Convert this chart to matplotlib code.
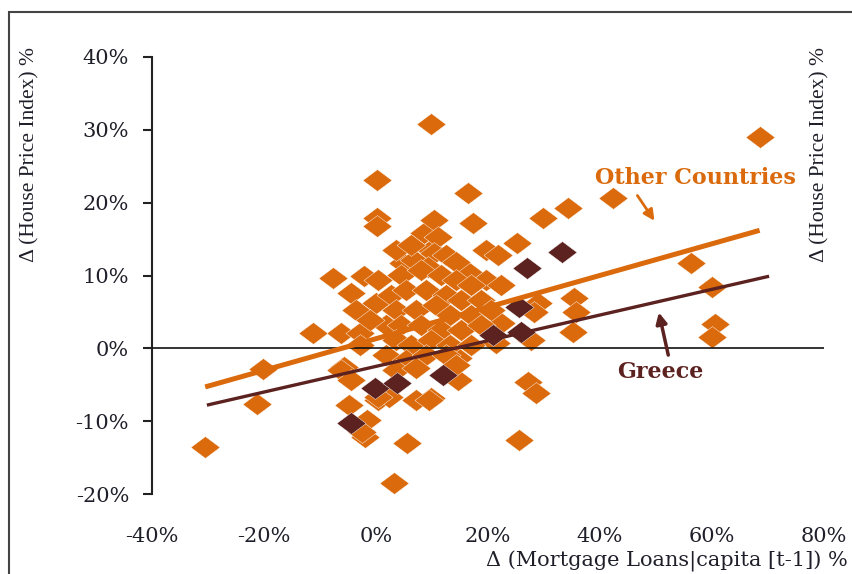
import matplotlib
matplotlib.use("Agg")
import matplotlib.pyplot as plt
from matplotlib.patches import Rectangle

# ---- data (percent) ----
other_x = [-30.5, -21.2, -20.1, -11.2, -6.3, -7.7, -4.5, -2.2, 0.1, 0.1, 0.1, 9.8, 16.4, 17.3,
           25.2, 29.8, 34.3, 42.3, 68.5, 56.3, 60.0, 60.6, 60.0, 35.3, 35.7, 35.1, 28.9, 28.2,
           27.1, 28.6, 25.5, 27.7, 21.4, 14.6, 9.8, 14.6, 22.3, -4.9, -1.6, -1.9, -2.5, 5.6,
           3.3, 0.3, 2.3, 7.1, 9.4, -5.8, -2.8,
           8.5, 0.3, 0.0, 4.9, 6.7, 9.8, 10.3, 19.6, 21.8, 11.0, 10.3, 9.2, 16.4, 19.6, 22.3,
           3.5, 6.2, 12.5, 14.2, 4.4, 8.0, 11.6, 14.2, 16.9, 2.6, 5.3, 8.9, 12.5, 15.1, 18.7,
           3.5, 7.1, 10.7, 13.3, 16.9, 20.5, 1.7, 4.4, 8.0, 11.6, 15.1, 18.7, 3.5, 6.2, 9.8,
           13.3, 16.9, 1.7, 5.3, 8.9, 12.5, 3.5, 7.1, 14.2, -2.8, -3.6, -1.0, -6.3, -4.5, 0.3]
other_y = [-13.6, -7.7, -2.9, 2.1, 2.1, 9.7, 7.6, 10.0, 23.1, 17.9, 16.8, 30.8, 21.3, 17.2,
           14.5, 17.9, 19.3, 20.6, 29.0, 11.7, 8.4, 3.3, 1.5, 6.9, 5.0, 2.3, 6.2, 5.0,
           -4.6, -6.2, -12.6, 1.1, 0.7, -4.4, -6.8, -1.3, 3.5, -7.8, -9.8, -12.2, -11.5, -13.0,
           -18.5, -7.1, -6.7, -7.1, -7.1, -2.6, 2.1,
           15.8, 9.4, 6.2, 11.7, 12.1, 13.5, 17.6, 13.5, 12.8, 15.3, 13.1, 11.2, 10.5, 9.4, 8.7,
           13.5, 14.2, 12.8, 11.9, 10.1, 10.8, 10.1, 9.4, 8.7, 7.3, 8.0, 8.0, 7.3, 6.6, 6.6,
           5.3, 5.3, 5.9, 4.6, 4.6, 5.3, 3.2, 3.2, 3.2, 2.5, 2.5, 3.2, 1.1, 0.5, 1.1,
           0.5, 0.5, -0.9, -1.6, -0.9, -0.9, -3.0, -2.7, -2.3, 0.5, 5.3, 3.9, -3.0, -4.4, -6.7]

greece_x = [-4.4, -0.1, 3.8, 11.9, 20.9, 25.9, 25.5, 26.9, 33.2]
greece_y = [-10.2, -5.4, -4.8, -3.7, 1.8, 2.2, 5.7, 11.0, 13.2]

other_fit_x = [-30.5, 68.5]
other_fit_y = [-5.3, 16.2]
greece_fit_x = [-30.2, 70.2]
greece_fit_y = [-7.8, 9.9]

x_ticks = [-40, -20, 0, 20, 40, 60, 80]
y_ticks = [-20, -10, 0, 10, 20, 30, 40]

ORANGE = "#DA6A0C"
BROWN = "#5C2220"
TXT = "#1f1f2a"

W, H = 853, 574
fig = plt.figure(figsize=(W / 100, H / 100), dpi=100)
fig.patch.set_facecolor("white")

ax = fig.add_axes([152 / W, 80 / H, (824 - 152) / W, (494 - 57) / H])
ax.set_xlim(-40, 80)
ax.set_ylim(-20, 40)

diamond = [(-1, 0), (0, 0.75), (1, 0), (0, -0.75), (-1, 0)]

ax.plot(other_x, other_y, linestyle="none", marker=diamond, ms=21, mfc=ORANGE,
        mec="white", mew=0.3, zorder=2)
ax.plot(greece_x, greece_y, linestyle="none", marker=diamond, ms=21, mfc=BROWN,
        mec="white", mew=0.3, zorder=2.5)

ax.axhline(0, color="#111111", lw=1.2, zorder=3)

ax.plot(other_fit_x, other_fit_y, color=ORANGE, lw=3.6, solid_capstyle="butt", zorder=4)
ax.plot(greece_fit_x, greece_fit_y, color=BROWN, lw=2.4, solid_capstyle="butt", zorder=4)

for s in ["top", "right", "bottom"]:
    ax.spines[s].set_visible(False)
ax.spines["left"].set_color("#222222")
ax.spines["left"].set_linewidth(1.5)

ax.set_xticks(x_ticks)
ax.set_yticks(y_ticks)
ax.set_xticklabels([f"{v}%" for v in x_ticks])
ax.set_yticklabels([f"{v}%" for v in y_ticks])
ax.tick_params(axis="x", length=0, pad=24)
ax.tick_params(axis="y", direction="out", length=6.5, width=1.5, color="#222222", pad=10)
for lab in ax.get_xticklabels() + ax.get_yticklabels():
    lab.set_fontfamily("DejaVu Serif")
    lab.set_fontsize(15)
    lab.set_color(TXT)

# annotations
ax.text(57.0, 23.4, "Other Countries", color=ORANGE, fontsize=16, fontweight="bold",
        family="DejaVu Serif", ha="center", va="center", zorder=5)
ax.annotate("", xy=(50.0, 17.2), xytext=(46.4, 21.3),
            arrowprops=dict(arrowstyle="-|>", color=ORANGE, lw=2, mutation_scale=16), zorder=5)
ax.text(50.7, -3.3, "Greece", color=BROWN, fontsize=16, fontweight="bold",
        family="DejaVu Serif", ha="center", va="center", zorder=5)
ax.annotate("", xy=(50.4, 5.3), xytext=(52.3, -1.3),
            arrowprops=dict(arrowstyle="-|>", color=BROWN, lw=2.5, mutation_scale=16), zorder=5)

# axis titles
fig.text(30 / W, 1 - 155 / H, "\u0394 (House Price Index) %", rotation=90, ha="center",
         va="center", fontsize=15.5, family="Liberation Serif", color=TXT)
fig.text(820 / W, 1 - 155 / H, "\u0394 (House Price Index) %", rotation=90, ha="center",
         va="center", fontsize=15.5, family="Liberation Serif", color=TXT)
fig.text(848 / W, 1 - 561 / H, "\u0394 (Mortgage Loans|capita [t-1]) %", ha="right",
         va="center", fontsize=15, family="DejaVu Serif", color=TXT)

# outer frame
fig.patches.append(Rectangle((8.5 / W, -0.1), 1.2, (574 - 12.5) / H + 0.1, fill=False,
                             edgecolor="#444444", lw=1.5, transform=fig.transFigure,
                             figure=fig))

fig.savefig("out.png", dpi=100)
